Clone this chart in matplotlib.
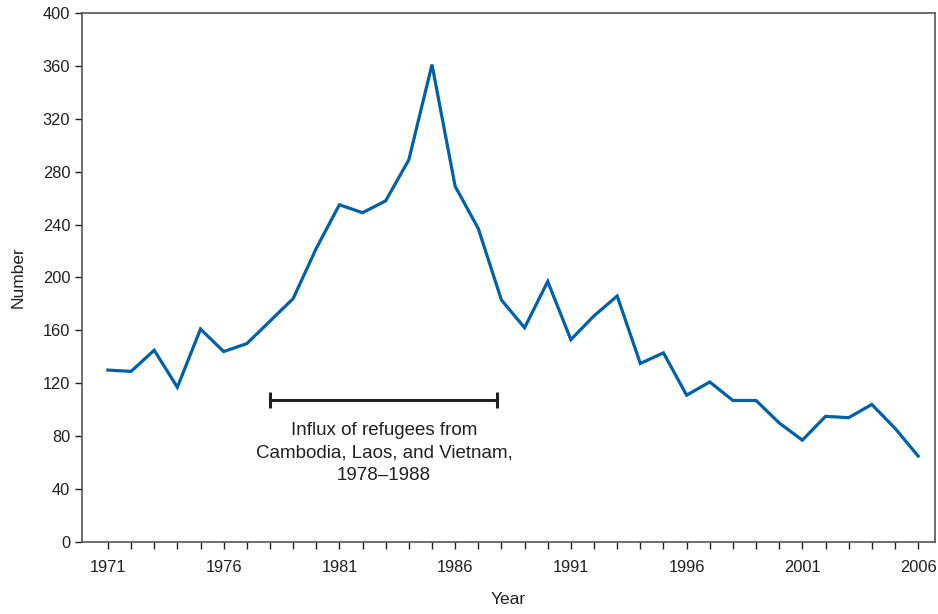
import matplotlib
matplotlib.use("Agg")
import matplotlib.pyplot as plt

plt.rcParams['font.family'] = ['Liberation Sans', 'DejaVu Sans']

years = list(range(1971, 2007))
counts = [130, 129, 145, 117, 161, 144, 150, 167, 184, 222,
          255, 249, 258, 289, 361, 269, 237, 183, 162, 197,
          153, 171, 186, 135, 143, 111, 121, 107, 107, 90,
          77, 95, 94, 104, 86, 65]
influx_start, influx_end = 1978, 1987.8
influx_level = 107
influx_label = "Influx of refugees from\nCambodia, Laos, and Vietnam,\n1978\u20131988"
year_ticks = [1971, 1976, 1981, 1986, 1991, 1996, 2001, 2006]
num_ticks = list(range(0, 401, 40))

fig = plt.figure(figsize=(9.38, 6.14), dpi=100)
ax = fig.add_axes([0.0874, 0.1173, 0.9094, 0.8615])

ax.plot(years, counts, color='#0061a9', lw=2.3, solid_joinstyle='miter')

# bracket for refugee influx
ax.errorbar([(influx_start + influx_end) / 2], [influx_level],
            xerr=[(influx_end - influx_start) / 2], fmt='none',
            ecolor='#231f20', elinewidth=2.2, capsize=6, capthick=2.2)
ax.text(1982.93, 91, influx_label,
        ha='center', va='top', fontsize=13.5, color='#231f20', linespacing=1.42)

ax.set_xlim(1969.88, 2006.73)
ax.set_ylim(0, 400)
ax.set_xticks(years, minor=True)
ax.set_xticks(year_ticks)
ax.set_yticks(num_ticks)
ax.tick_params(axis='both', labelsize=11.8, colors='#231f20', length=5, width=1)
ax.tick_params(axis='x', which='minor', length=5, width=1, color='#231f20')
ax.tick_params(axis='x', pad=8)

for s in ax.spines.values():
    s.set_color('#555555')
    s.set_linewidth(1.2)

ax.set_xlabel('Year', fontsize=12.5, color='#231f20', labelpad=12)
ax.set_ylabel('Number', fontsize=12.5, color='#231f20', labelpad=12)

fig.savefig('out.png', dpi=100)
